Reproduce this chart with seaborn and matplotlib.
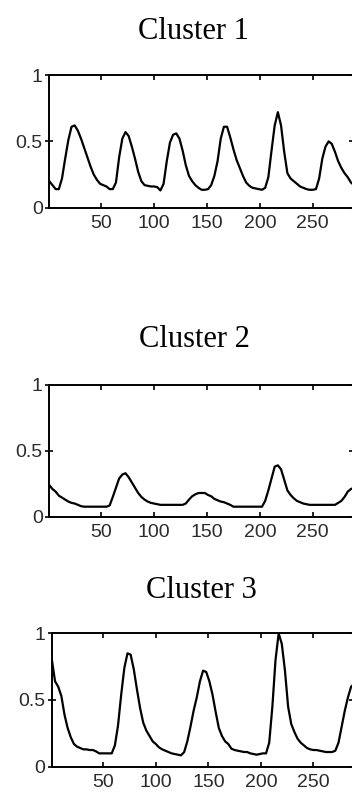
import matplotlib
matplotlib.use("Agg")
import matplotlib.pyplot as plt
import pandas as pd
import seaborn as sns

# Sample positions along the daily profile (every third 5-minute slot)
sample_index = list(range(1, 290, 3))

cluster_1 = [
    .20, .17, .14, .14, .22, .37, .51, .61, .62, .58,
    .52, .45, .38, .31, .25, .21, .18, .17, .16, .14,
    .14, .19, .38, .52, .57, .54, .46, .37, .27, .20,
    .17, .165, .16, .16, .155, .13, .18, .35, .49, .55,
    .56, .52, .43, .32, .24, .20, .17, .15, .135, .135,
    .14, .17, .24, .35, .52, .61, .61, .53, .44, .36,
    .30, .24, .19, .165, .15, .145, .14, .135, .15, .23,
    .43, .62, .72, .62, .42, .26, .22, .20, .18, .16,
    .15, .14, .135, .135, .14, .22, .37, .46, .50, .48,
    .42, .35, .30, .26, .23, .19, .17,
]

cluster_2 = [
    .24, .21, .19, .16, .145, .13, .115, .105, .10, .09,
    .08, .076, .076, .076, .076, .076, .076, .076, .076, .085,
    .15, .22, .29, .32, .33, .30, .26, .22, .18, .15,
    .13, .115, .105, .10, .095, .09, .09, .09, .09, .09,
    .09, .09, .09, .10, .13, .155, .17, .18, .18, .18,
    .165, .155, .135, .125, .115, .11, .10, .09, .076, .076,
    .076, .076, .076, .076, .076, .076, .076, .076, .12, .20,
    .29, .38, .39, .36, .28, .20, .165, .14, .12, .11,
    .10, .095, .09, .09, .09, .09, .09, .09, .09, .09,
    .09, .105, .12, .15, .19, .21, .22,
]

cluster_3 = [
    .80, .64, .60, .53, .39, .29, .22, .17, .15, .14,
    .13, .13, .125, .125, .115, .10, .10, .10, .10, .10,
    .16, .31, .54, .74, .85, .84, .73, .58, .44, .33,
    .27, .23, .19, .17, .145, .13, .12, .11, .10, .095,
    .09, .085, .11, .19, .30, .42, .52, .64, .72, .71,
    .64, .54, .41, .29, .23, .19, .17, .135, .125, .12,
    .115, .11, .11, .10, .095, .09, .095, .10, .10, .18,
    .45, .80, 1.0, .92, .72, .45, .32, .26, .21, .18,
    .16, .14, .13, .125, .125, .12, .115, .11, .11, .11,
    .12, .18, .30, .42, .52, .60, .62,
]

titles = ["Cluster 1", "Cluster 2", "Cluster 3"]
x_ticks = [50, 100, 150, 200, 250]
y_ticks = [0, 0.5, 1]
y_tick_labels = ["0", "0.5", "1"]

sns.set_theme(style="white")
plt.rcParams["font.family"] = ["Liberation Sans", "DejaVu Sans"]

W, H = 352, 792
fig = plt.figure(figsize=(W / 100, H / 100), dpi=100)
fig.patch.set_facecolor("white")

# panel boxes in pixels: left, top, right, bottom
panel_boxes = [
    (49.3, 75.0, 353.0, 207.7),
    (49.3, 385.0, 353.0, 516.7),
    (51.9, 633.3, 353.2, 766.7),
]
title_anchors = [(193, 39), (194, 347), (201.5, 598)]

for values, title, (l, t, r, b), (tx, ty) in zip(
    [cluster_1, cluster_2, cluster_3], titles, panel_boxes, title_anchors
):
    ax = fig.add_axes([l / W, 1 - b / H, (r - l) / W, (b - t) / H])
    frame = pd.DataFrame({"sample": sample_index, "value": values})
    sns.lineplot(
        data=frame, x="sample", y="value", ax=ax, color="black",
        linewidth=1.6, estimator=None,
    )
    ax.set_xlim(1, 288)
    ax.set_ylim(0, 1)
    ax.set_xlabel("")
    ax.set_ylabel("")
    ax.set_xticks(x_ticks)
    ax.set_xticklabels([str(v) for v in x_ticks])
    ax.set_yticks(y_ticks)
    ax.set_yticklabels(y_tick_labels)
    for side in ["left", "right", "top", "bottom"]:
        ax.spines[side].set_visible(True)
        ax.spines[side].set_color("black")
        ax.spines[side].set_linewidth(1.4)
    ax.tick_params(axis="x", direction="in", top=True, bottom=True,
                   length=3.5, width=1.2, color="black", pad=5.0,
                   labelsize=14, labelcolor="#2b2b2b")
    ax.tick_params(axis="y", direction="inout", left=True, right=True,
                   length=6.0, width=1.2, color="black", pad=1.8,
                   labelsize=14, labelcolor="#2b2b2b")
    ax.set_facecolor("white")
    ax.grid(False)
    fig.text(tx / W, 1 - ty / H, title, ha="center", va="baseline",
             family=["Liberation Serif", "DejaVu Serif"], fontsize=22,
             color="black")

fig.savefig("out.png", dpi=100, facecolor="white")
